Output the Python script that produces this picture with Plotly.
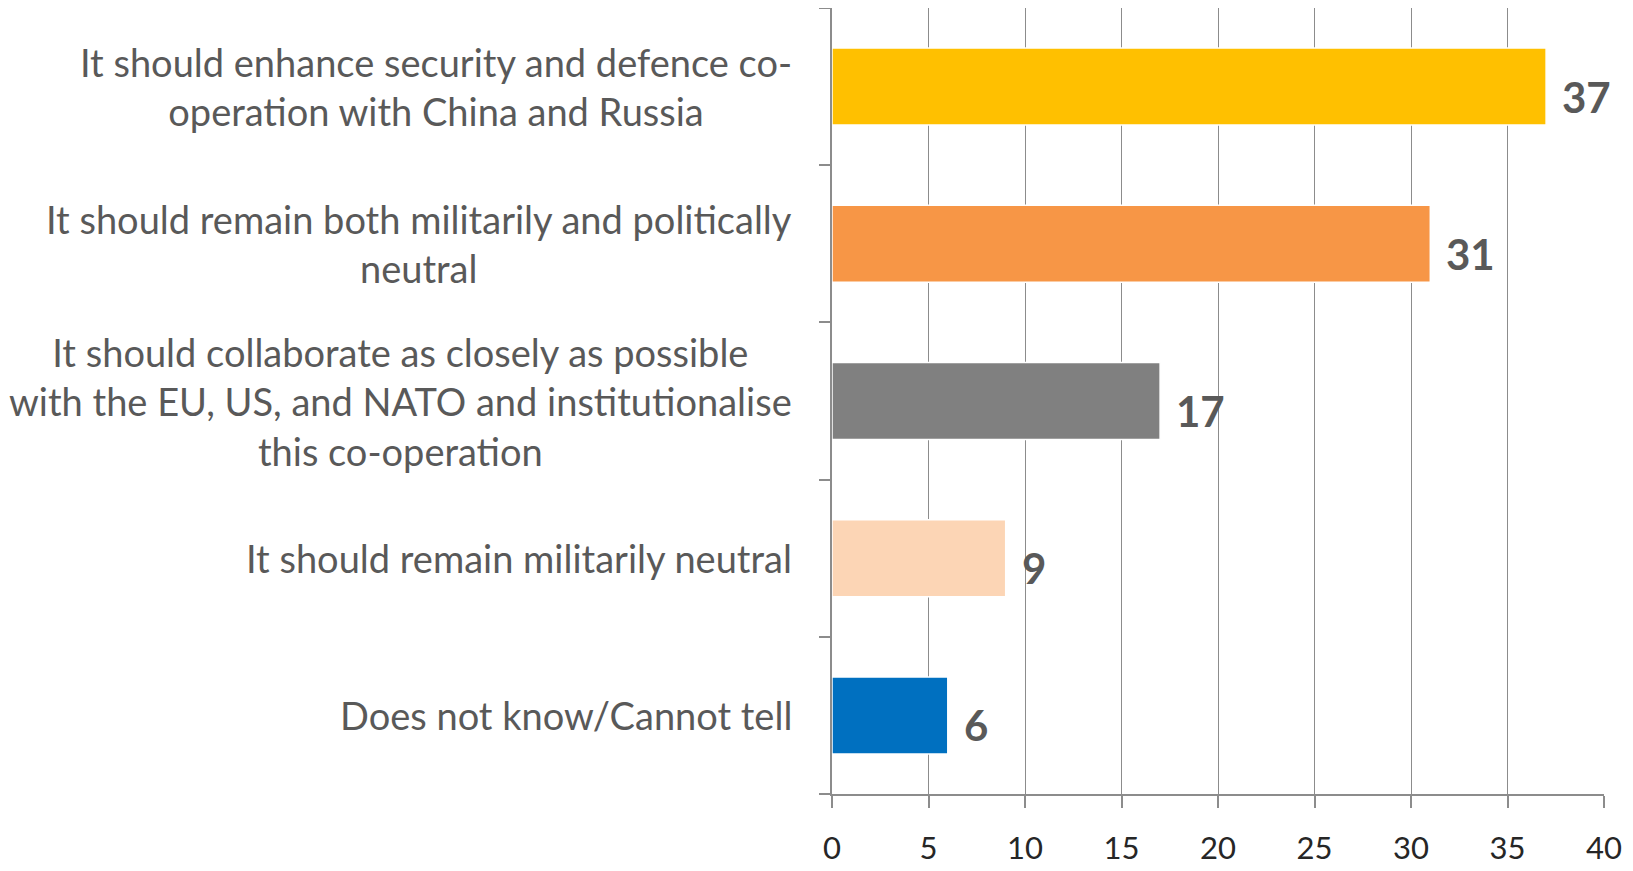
import plotly.graph_objects as go

categories = [
    "It should enhance security and defence co-<br>operation with China and Russia",
    "It should remain both militarily and politically<br>neutral",
    "It should collaborate as closely as possible<br>with the EU, US, and NATO and institutionalise<br>this co-operation",
    "It should remain militarily neutral",
    "Does not know/Cannot tell",
]
values = [37, 31, 17, 9, 6]
colors = ["#FFC000", "#F79646", "#808080", "#FCD5B5", "#0070C0"]
x_ticks = [0, 5, 10, 15, 20, 25, 30, 35, 40]

ids = [f"c{i}" for i in range(len(categories))]

fig = go.Figure()
fig.add_trace(go.Bar(
    y=ids, x=values, orientation="h",
    marker=dict(color=colors, line=dict(color="white", width=1.5)),
    width=0.49, hoverinfo="skip",
))

font_family = "Lato, 'Open Sans', sans-serif"

annotations = []
for cid, lab, v in zip(ids, categories, values):
    annotations.append(dict(
        x=0, xref="paper", y=cid, yref="y", text=lab, showarrow=False,
        xanchor="right", yanchor="middle", align="center", xshift=-38,
        font=dict(family=font_family, size=38, color="#595959"),
    ))
    annotations.append(dict(
        x=v, xref="x", y=cid, yref="y", text=f"<b>{v}</b>", showarrow=False,
        xanchor="left", yanchor="middle", xshift=14, yshift=-10,
        font=dict(family=font_family, size=42, color="#595959"),
    ))

fig.update_layout(
    width=1625, height=863,
    margin=dict(l=824, r=29, t=0, b=77, autoexpand=False),
    paper_bgcolor="white", plot_bgcolor="white",
    showlegend=False,
    annotations=annotations,
    xaxis=dict(
        range=[0, 40], tickvals=x_ticks, ticktext=[str(t) for t in x_ticks],
        showgrid=True, gridcolor="#8c8c8c", gridwidth=1,
        showline=True, linecolor="#8c8c8c", linewidth=1.5,
        ticks="outside", ticklen=12, tickcolor="#8c8c8c", tickwidth=1.5,
        ticklabelstandoff=14, automargin=False,
        tickfont=dict(family=font_family, size=31, color="#262626"),
        zeroline=False,
    ),
    yaxis=dict(
        categoryorder="array", categoryarray=ids[::-1],
        showticklabels=False, tickson="boundaries", automargin=False,
        ticks="outside", ticklen=11, tickcolor="#8c8c8c", tickwidth=1.5,
        showline=True, linecolor="#8c8c8c", linewidth=1.5,
        showgrid=False, zeroline=False,
    ),
)

fig.write_html("out.html")
